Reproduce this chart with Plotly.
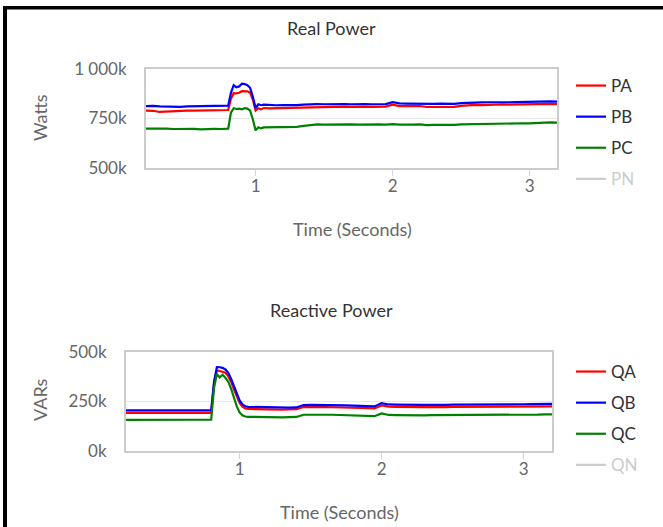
import plotly.graph_objects as go

W, H = 663, 527

# ---------------- data ----------------
T = [0.20, 0.25, 0.30, 0.35, 0.40, 0.45, 0.50, 0.55, 0.60, 0.65, 0.70, 0.75, 0.80,
     0.82, 0.84, 0.86, 0.88, 0.90, 0.92, 0.94, 0.96, 0.98, 1.00, 1.02, 1.04, 1.06,
     1.10, 1.15, 1.20, 1.25, 1.30, 1.35, 1.40, 1.45, 1.50, 1.55, 1.60, 1.65, 1.70,
     1.75, 1.80, 1.85, 1.90, 1.95, 2.00, 2.05, 2.10, 2.15, 2.20, 2.25, 2.30, 2.35,
     2.40, 2.45, 2.50, 2.55, 2.60, 2.65, 2.70, 2.75, 2.80, 2.85, 2.90, 2.95, 3.00,
     3.05, 3.10, 3.15, 3.20]

# Real power (kW)
PA = [790, 789, 783, 785, 788, 789, 790, 790, 791, 791, 792, 792, 793,
      850, 878, 877, 880, 888, 889, 887, 880, 845, 790, 802, 796, 803,
      801, 802, 801, 802, 803, 806, 808, 809, 808, 810, 809, 810, 809,
      811, 810, 809, 811, 810, 820, 813, 812, 811, 813, 808, 809, 810,
      808, 809, 814, 817, 819, 818, 820, 819, 821, 820, 821, 822, 821,
      823, 822, 824, 823]
PB = [813, 814, 811, 810, 812, 809, 811, 812, 814, 813, 815, 815, 815,
      880, 918, 908, 912, 926, 924, 918, 905, 860, 803, 822, 817, 820,
      818, 817, 818, 817, 818, 820, 822, 823, 822, 823, 822, 823, 822,
      824, 823, 822, 824, 823, 833, 826, 825, 824, 826, 823, 824, 825,
      823, 824, 828, 830, 832, 831, 832, 831, 833, 832, 833, 834, 833,
      835, 834, 836, 835]
PC = [699, 700, 698, 699, 697, 698, 696, 698, 695, 697, 698, 697, 699,
      780, 802, 798, 800, 796, 802, 800, 790, 745, 690, 706, 700, 705,
      706, 705, 707, 706, 708, 713, 718, 720, 719, 720, 719, 721, 720,
      719, 720, 718, 720, 719, 722, 719, 718, 719, 720, 717, 718, 717,
      719, 718, 720, 721, 722, 721, 723, 722, 723, 724, 725, 726, 725,
      727, 726, 730, 729]
PN = [None] * len(T)   # hidden series (legend only)

# Reactive power (kVAR)
QA = [193, 193, 192, 193, 193, 192, 193, 193, 193, 192, 193, 193, 193,
      340, 407, 404, 400, 395, 378, 350, 312, 272, 243, 224, 215, 212,
      211, 210, 210, 210, 209, 210, 211, 222, 223, 222, 222, 221, 221,
      220, 219, 218, 217, 215, 230, 224, 223, 222, 222, 221, 222, 222,
      221, 222, 223, 223, 222, 223, 223, 222, 223, 223, 224, 223, 224,
      224, 224, 225, 225]
QB = [205, 205, 204, 205, 205, 204, 205, 205, 205, 204, 205, 205, 205,
      350, 424, 423, 420, 412, 395, 365, 325, 285, 255, 235, 226, 223,
      222, 220, 219, 219, 218, 219, 220, 232, 233, 233, 232, 232, 231,
      230, 229, 228, 227, 225, 242, 235, 234, 233, 233, 232, 233, 233,
      232, 233, 234, 234, 233, 234, 234, 233, 234, 235, 235, 236, 236,
      237, 237, 238, 238]
QC = [157, 157, 156, 157, 157, 156, 157, 157, 157, 156, 157, 157, 158,
      320, 388, 372, 385, 370, 350, 315, 270, 225, 195, 180, 174, 172,
      172, 171, 171, 171, 170, 171, 172, 183, 184, 184, 183, 183, 182,
      181, 180, 179, 178, 176, 190, 182, 181, 180, 180, 179, 180, 181,
      181, 182, 183, 183, 182, 182, 183, 182, 182, 183, 183, 183, 184,
      184, 184, 185, 185]
QN = [None] * len(T)   # hidden series (legend only)

top_ticks = [500, 750, 1000]
top_tick_text = ["500k", "750k", "1 000k"]
bot_ticks = [0, 250, 500]
bot_tick_text = ["0k", "250k", "500k"]
x_ticks = [1, 2, 3]

# hidden series are drawn at half opacity by the legend -> #999 shows as ~#ccc
RED, BLUE, GREEN, GREY = "#ff0000", "#0000ff", "#008000", "#999999"

# ---------------- figure ----------------
def px_x(p):
    return p / W

def px_y(p):
    return 1 - p / H

fig = go.Figure()

top_series = [("PA", PA, RED, True), ("PB", PB, BLUE, True),
              ("PC", PC, GREEN, True), ("PN", PN, GREY, "legendonly")]
for name, vals, col, vis in top_series:
    label = name if vis is True else f"<span style='color:#999999'>{name}</span>"
    fig.add_trace(go.Scatter(x=T, y=vals, name=label, mode="lines",
                             line=dict(color=col, width=2.2), visible=vis,
                             xaxis="x", yaxis="y", legend="legend",
                             legendgroup=name, showlegend=True))

bot_series = [("QA", QA, RED, True), ("QB", QB, BLUE, True),
              ("QC", QC, GREEN, True), ("QN", QN, GREY, "legendonly")]
for name, vals, col, vis in bot_series:
    label = name if vis is True else f"<span style='color:#999999'>{name}</span>"
    fig.add_trace(go.Scatter(x=T, y=vals, name=label, mode="lines",
                             line=dict(color=col, width=2.2), visible=vis,
                             xaxis="x2", yaxis="y2", legend="legend2",
                             legendgroup=name, showlegend=True))

FONT = "Lato"
tickfont = dict(family=FONT, size=17, color="#666666")

xcommon = dict(range=[0.2, 3.2], tickvals=x_ticks, ticks="outside", ticklen=6,
               tickcolor="#ccd6eb", tickwidth=1, showgrid=False, zeroline=False,
               showline=True, mirror=True, linecolor="#cccccc", linewidth=2,
               tickfont=tickfont, ticklabelstandoff=-4, fixedrange=True,
               automargin=False)
ycommon = dict(showgrid=True, gridcolor="#e6e6e6", gridwidth=1, zeroline=False,
               showline=True, mirror=True, linecolor="#cccccc", linewidth=2,
               tickfont=tickfont, ticks="", ticklabelstandoff=14, fixedrange=True,
               automargin=False)

fig.update_layout(
    width=W, height=H,
    margin=dict(l=0, r=0, t=0, b=0, pad=0, autoexpand=False),
    paper_bgcolor="white", plot_bgcolor="white",
    font=dict(family=FONT, color="#333333"),
    xaxis=dict(domain=[px_x(146), px_x(557)], anchor="y", **xcommon),
    yaxis=dict(domain=[px_y(168), px_y(69)], anchor="x", range=[500, 1000],
               tickvals=top_ticks, ticktext=top_tick_text, **ycommon),
    xaxis2=dict(domain=[px_x(126), px_x(552)], anchor="y2", **xcommon),
    yaxis2=dict(domain=[px_y(451), px_y(352)], anchor="x2", range=[0, 500],
                tickvals=bot_ticks, ticktext=bot_tick_text, **ycommon),
    legend=dict(x=px_x(571), y=px_y(68), xanchor="left", yanchor="top",
                font=dict(family=FONT, size=17, color="#333333"),
                traceorder="grouped", tracegroupgap=6, bgcolor="rgba(0,0,0,0)"),
    legend2=dict(x=px_x(571), y=px_y(354), xanchor="left", yanchor="top",
                 font=dict(family=FONT, size=17, color="#333333"),
                 traceorder="grouped", tracegroupgap=6, bgcolor="rgba(0,0,0,0)"),
    showlegend=True,
)

ann_common = dict(xref="paper", yref="paper", showarrow=False,
                  xanchor="center", yanchor="middle")
fig.add_annotation(text="Real Power", x=px_x(331), y=px_y(28),
                   font=dict(family=FONT, size=18, color="#333333"), **ann_common)
fig.add_annotation(text="Reactive Power", x=px_x(331), y=px_y(310),
                   font=dict(family=FONT, size=18, color="#333333"), **ann_common)
fig.add_annotation(text="Time (Seconds)", x=px_x(352), y=px_y(229),
                   font=dict(family=FONT, size=18, color="#666666"), **ann_common)
fig.add_annotation(text="Time (Seconds)", x=px_x(339), y=px_y(512),
                   font=dict(family=FONT, size=18, color="#666666"), **ann_common)
fig.add_annotation(text="Watts", x=px_x(40), y=px_y(118), textangle=-90,
                   font=dict(family=FONT, size=18, color="#666666"), **ann_common)
fig.add_annotation(text="VARs", x=px_x(40), y=px_y(400), textangle=-90,
                   font=dict(family=FONT, size=18, color="#666666"), **ann_common)

# black frame on top and left edges
fig.add_shape(type="rect", xref="paper", yref="paper", x0=px_x(3), x1=px_x(663),
              y0=px_y(9.5), y1=px_y(6), fillcolor="black", line=dict(width=0))
fig.add_shape(type="rect", xref="paper", yref="paper", x0=px_x(3), x1=px_x(7),
              y0=px_y(527), y1=px_y(6), fillcolor="black", line=dict(width=0))

fig.write_html("out.html")
